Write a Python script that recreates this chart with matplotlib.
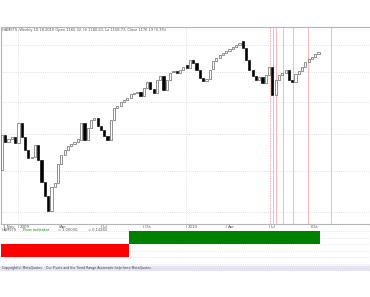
'''
Weekly candles with pivot indicator panel
'''
import matplotlib.pyplot as plt
import matplotlib.transforms as mtransforms

# weekly candle bodies (open, close)
opens = [801, 897, 877, 886, 892, 874, 933, 892, 855, 833,
         836, 869, 828, 771, 737, 702, 758, 768, 817, 841,
         855, 866, 872, 877, 883, 933, 883, 918, 942, 948,
         924, 912, 894, 883, 942, 979, 986, 998, 1005, 1011,
         1025, 1028, 1031, 1018, 1045, 1065, 1041, 1028, 1072, 1086,
         1038, 1072, 1100, 1103, 1096, 1107, 1125, 1114, 1143, 1132,
         1107, 1079, 1068, 1075, 1111, 1140, 1151, 1162, 1169, 1177,
         1185, 1192, 1200, 1216, 1188, 1143, 1107, 1086, 1072, 1082,
         1062, 1089, 1118, 1021, 1072, 1089, 1096, 1107, 1072, 1065,
         1093, 1103, 1118, 1136, 1147, 1154, 1166]
closes = [897, 877, 886, 892, 874, 933, 892, 855, 833, 836,
          869, 828, 771, 737, 702, 758, 768, 817, 841, 855,
          866, 872, 877, 886, 933, 883, 918, 942, 948, 924,
          912, 894, 883, 942, 979, 986, 998, 1005, 1011, 1025,
          1028, 1031, 1018, 1045, 1065, 1041, 1028, 1072, 1086, 1038,
          1072, 1096, 1103, 1096, 1107, 1118, 1114, 1143, 1132, 1107,
          1079, 1068, 1075, 1107, 1140, 1151, 1162, 1169, 1177, 1185,
          1192, 1200, 1208, 1188, 1143, 1107, 1086, 1072, 1082, 1062,
          1089, 1118, 1021, 1072, 1089, 1096, 1107, 1072, 1065, 1093,
          1103, 1118, 1136, 1147, 1154, 1166, 1173]

# pivot indicator state per week
signal = [-1, -1, -1, -1, -1, -1, -1, -1, -1, -1,
          -1, -1, -1, -1, -1, -1, -1, -1, -1, -1,
          -1, -1, -1, -1, -1, -1, -1, -1, -1, -1,
          -1, -1, -1, -1, -1, -1, -1, -1, -1, 1,
          1, 1, 1, 1, 1, 1, 1, 1, 1, 1,
          1, 1, 1, 1, 1, 1, 1, 1, 1, 1,
          1, 1, 1, 1, 1, 1, 1, 1, 1, 1,
          1, 1, 1, 1, 1, 1, 1, 1, 1, 1,
          1, 1, 1, 1, 1, 1, 1, 1, 1, 1,
          1, 1, 1, 1, 1, 1, 1]

price_grid = [700, 800, 900, 1000, 1100, 1200]
tick_pos = [4.9, 17.3, 30.0, 42.9, 55.9, 68.0, 80.9, 93.6]
tick_labels = ['2009', 'Apr', 'Jul', 'Oct', '2010', 'Apr', 'Jul', 'Oct']
year_lines = [4.9, 55.9]
red_lines = [81.2, 82.1, 83.1, 85.1, 88.1, 92.9, 99.7]

W, H = 370, 297
fig = plt.figure(figsize=(W / 100, H / 100), dpi=100)
fig.patch.set_facecolor('white')

def box(x0, y0, x1, y1):
    # pixel box -> figure fraction
    return [x0 / W, 1 - y1 / H, (x1 - x0) / W, (y1 - y0) / H]

grey = '#b4b4b4'

# ---- main price panel
ax = fig.add_axes(box(1, 27, 371, 224))
ax.set_yscale('log')
ax.set_xlim(-0.3, 111.9)
ax.set_ylim(673.5, 1271.8)
ax.set_xticks([])
ax.set_yticks([])
ax.minorticks_off()
ax.set_yticks([], minor=True)
ax.spines['right'].set_visible(False)
for s in ['top', 'bottom', 'left']:
    ax.spines[s].set_color(grey)
    ax.spines[s].set_linewidth(0.8)

for lvl in price_grid:
    ax.axhline(lvl, color='#c8c8c8', lw=0.5, ls=(0, (1, 2)), zorder=0)
for xv in year_lines:
    ax.axvline(xv, color='#c8c8c8', lw=0.5, ls=(0, (1, 2)), zorder=0)

for i, xv in enumerate(red_lines):
    ax.axvline(xv, color='#ffa8a8', lw=0.6, ls=(0, (2, 1)) if i == 0 else '-', zorder=1)

x = list(range(len(opens)))
heights = [c - o for o, c in zip(opens, closes)]
fills = ['white' if c >= o else 'black' for o, c in zip(opens, closes)]
edges = ['#555555' if c >= o else 'black' for o, c in zip(opens, closes)]
ax.bar(x, heights, bottom=opens, width=0.66, color=fills, edgecolor=edges,
       linewidth=0.45, zorder=3)

ax.text(0.003, 0.995, 'HAMETS ,Weekly 10.18.2010 Open 1165.32, Hi 1180.63, Lo 1158.73, Close 1176.19 (0.3%)',
        transform=ax.transAxes, fontsize=2.6, color='#555555', va='top', ha='left')

# date axis labels
trans = mtransforms.blended_transform_factory(ax.transData, ax.transAxes)
ax.text(0.3, -0.005, '1 Nov', transform=trans, fontsize=2.8, color='#555555',
        va='top', ha='left', clip_on=False)
for p, lab in zip(tick_pos, tick_labels):
    ax.plot([p, p], [0, -0.02], transform=trans, color=grey, lw=0.6, clip_on=False)
    ax.text(p + 0.4, -0.005, lab, transform=trans, fontsize=2.8, color='#555555',
            va='top', ha='left', clip_on=False)

# ---- indicator panel
ax2 = fig.add_axes(box(1, 228, 371, 266))
ax2.set_xlim(-0.3, 111.9)
ax2.set_ylim(-1.69, 1.23)
ax2.set_xticks([])
ax2.set_yticks([])
for s in ['top', 'right', 'left']:
    ax2.spines[s].set_visible(False)
ax2.spines['bottom'].set_color(grey)
ax2.spines['bottom'].set_linewidth(0.8)
for lvl in [1, 0.5, 0, -0.5, -1, -1.5]:
    ax2.axhline(lvl, color='#cfcfcf', lw=0.5, ls=(0, (1, 2)), zorder=0)
bar_colors = ['#008000' if v > 0 else '#ff0000' for v in signal]
ax2.bar(x, signal, width=1.0, color=bar_colors, linewidth=0, zorder=2)
ax2.text(0.003, 1.0, 'HAMETS', transform=ax2.transAxes, fontsize=2.6,
         color='#555555', va='top', ha='left')
ax2.text(0.06, 1.0, 'Pivot indicator', transform=ax2.transAxes, fontsize=2.6,
         color='#008000', va='top', ha='left')
ax2.text(0.155, 1.0, '= 1.00000,', transform=ax2.transAxes, fontsize=2.6,
         color='#555555', va='top', ha='left')
ax2.text(0.235, 1.0, '= 0.14284', transform=ax2.transAxes, fontsize=2.6,
         color='#555555', va='top', ha='left')

# ---- status bar
ax3 = fig.add_axes(box(0, 266, 370, 271))
ax3.set_facecolor('#e4e4f4')
ax3.set_xticks([])
ax3.set_yticks([])
for s in ax3.spines.values():
    s.set_visible(False)
ax3.text(0.006, 0.5, 'Copyright(c) MetaQuotes    Our Pivots and the Trend Range Automatic help forex MetaQuotes',
         transform=ax3.transAxes, fontsize=2.3, color='#444444', va='center', ha='left')

fig.savefig('out.png', dpi=100)
